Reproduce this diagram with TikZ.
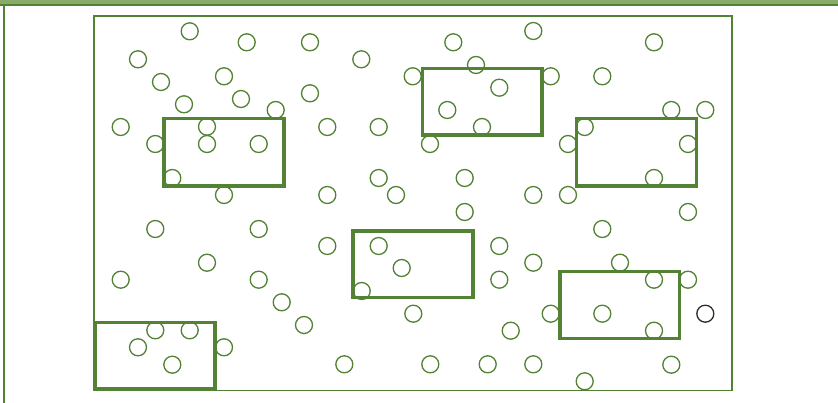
\documentclass[tikz,border=0pt]{standalone}
\definecolor{gdark}{RGB}{83,130,53}
\definecolor{glight}{RGB}{136,172,104}
\definecolor{ringdark}{RGB}{45,45,45}
\tikzset{
  dot/.style={circle,draw=gdark,line width=1.3pt,minimum size=17pt,inner sep=0pt},
  blackdot/.style={circle,draw=ringdark,line width=1.3pt,minimum size=17pt,inner sep=0pt},
  zone/.style={draw=gdark,line width=3.2pt},
  field/.style={draw=gdark,line width=1.6pt},
}
\begin{document}
\begin{tikzpicture}[x=1pt,y=-1pt]
\useasboundingbox (0,0) rectangle (838,403);
\fill[white] (0,0) rectangle (838,403);
% window frame
\fill[glight] (0,0) rectangle (838,5);
\draw[gdark,line width=2.2pt] (0,5) -- (838,5);
\draw[gdark,line width=2.2pt] (4,5) -- (4,403);
% field
\draw[field] (94,16) rectangle (732,390.5);
% circles
\foreach \x/\y [count=\i] in {
 189.7/31.3, 246.7/42.3, 310/42.3, 453.3/42.3, 533.3/31, 654/42.3,
 138/59.3, 361.3/59.3,
 161/82, 224/76.3, 412.7/76.3, 476/65, 550.7/76.3, 602.3/76.3,
 184/104.3, 241/99, 310/93.3, 499.3/87.7,
 275.7/110, 447.3/110, 671.3/110, 705.3/110,
 120.7/127, 207/126.7, 327.3/127, 378.7/127, 482/127, 584.7/127,
 155.3/144, 207/144, 258.7/144, 430/144, 568/144, 688/144,
 172.3/178, 378.7/178, 464.7/178, 654/178,
 224/195, 327.3/195, 396/195, 533.3/195, 568/195,
 464.7/212, 688/212,
 155.3/229, 258.7/229, 602.3/229,
 327.3/246, 378.7/246, 499.3/246,
 207/262.7, 533.3/262.7, 620/262.7,
 120.7/279.7, 258.7/279.7, 401.7/268, 499.3/279.7, 654/279.7, 688/279.7,
 281.7/302.3, 361.7/291,
 304/325, 413.3/313.7, 550.7/313.7, 602.3/313.7,
 155.3/330.3, 189.7/330.3, 510.7/330.7, 654/330.7,
 138/347.3, 224/347.3,
 172.3/364.7, 344.3/364.3, 430.3/364.3, 487.7/364.3, 533.3/364.3, 671.3/364.7,
 584.7/381.3}
 { \node[dot] (c\i) at (\x,\y) {}; }
\node[blackdot] (cb) at (705.3,313.7) {};
% zones
\draw[zone] (164,118.5) rectangle (284,186);
\draw[zone] (422.5,68.5) rectangle (542,135);
\draw[zone] (576.5,118.5) rectangle (696.5,186);
\draw[zone] (353,231) rectangle (473,297.5);
\draw[zone] (560,271.5) rectangle (679.5,338.3);
\draw[zone] (95.5,322.5) rectangle (215,389);
\end{tikzpicture}
\end{document}
